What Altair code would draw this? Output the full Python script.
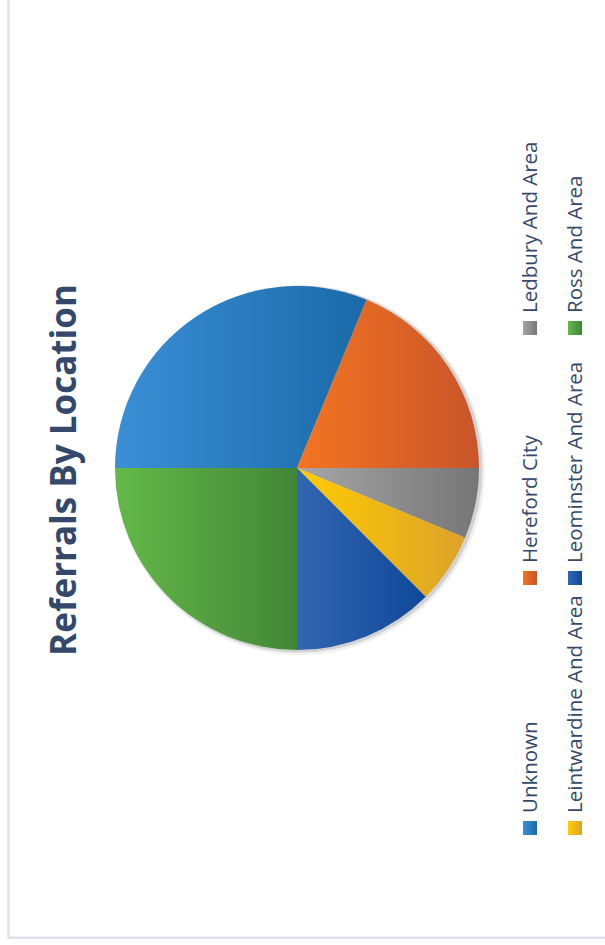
import math
import altair as alt
import pandas as pd

# ---- data ----
categories = ["Unknown", "Hereford City", "Ledbury And Area",
              "Leintwardine And Area", "Leominster And Area", "Ross And Area"]
values = [5, 3, 1, 1, 2, 4]
legend_col = [0, 0, 0, 1, 1, 1]
legend_row = [0, 1, 2, 0, 1, 2]
title_text = "Referrals By Location"

# ---- styles ----
light = ["#3a8fd6", "#f47421", "#a6a6a6", "#ffcc00", "#3366b3", "#64b948"]
dark = ["#1b6aa9", "#c8552a", "#767676", "#dca22b", "#0e4898", "#428638"]
text_color = "#34496a"
total = sum(values)

df = pd.DataFrame({"category": categories, "value": values,
                   "order": list(range(len(categories))),
                   "col": legend_col, "row": legend_row})

theta_scale = alt.Scale(domain=[0, total], range=[-math.pi / 2, 3 * math.pi / 2])
cx, cy, R = 297, 468, 182


def grad(i):
    return alt.Gradient(gradient="linear",
                        stops=[alt.GradientStop(color=light[i], offset=0),
                               alt.GradientStop(color=dark[i], offset=1)],
                        x1=0, x2=1, y1=0, y2=0)


base = (alt.Chart(df)
        .transform_window(cum="sum(value)", sort=[alt.SortField("order")],
                          frame=[None, 0])
        .transform_calculate(start="datum.cum - datum.value"))

# frame
frame = alt.Chart(pd.DataFrame({"k": [0]})).mark_rect(
    fill="white", stroke="#dde3ec", strokeWidth=2.5
).encode(x=alt.value(8.5), x2=alt.value(640), y=alt.value(-20), y2=alt.value(937.8))

# shadow
one = alt.Chart(pd.DataFrame({"k": [0]}))
shadows = [
    one.mark_arc(radius=R + 3, theta=0, theta2=2 * math.pi, fill="#000000", opacity=0.06)
       .encode(x=alt.value(cx + 3), y=alt.value(cy + 2)),
    one.mark_arc(radius=R + 1.5, theta=0, theta2=2 * math.pi, fill="#000000", opacity=0.12)
       .encode(x=alt.value(cx + 2), y=alt.value(cy + 1)),
]

xs = alt.Scale(domain=[0, 1], range=[530, 575])
ys = alt.Scale(domain=[0, 2], range=[828, 328])

arcs = []
squares = []
for i, c in enumerate(categories):
    arcs.append(
        base.transform_filter(alt.datum.category == c)
        .mark_arc(radius=R, fill=grad(i), stroke=None)
        .encode(theta=alt.Theta("start:Q", scale=theta_scale, stack=None),
                theta2="cum:Q",
                x=alt.value(cx), y=alt.value(cy))
    )
    squares.append(
        alt.Chart(df).transform_filter(alt.datum.category == c)
        .mark_square(size=196, fill=grad(i), opacity=1)
        .encode(x=alt.X("col:Q", scale=xs, axis=None),
                y=alt.Y("row:Q", scale=ys, axis=None))
    )

labels = alt.Chart(df).mark_text(
    angle=270, align="left", baseline="alphabetic", font="Open Sans",
    fontSize=20.5, color=text_color, xOffset=7, yOffset=-15
).encode(
    x=alt.X("col:Q", scale=xs, axis=None),
    y=alt.Y("row:Q", scale=ys, axis=None),
    text="category:N",
)

title = alt.Chart(pd.DataFrame({"t": [title_text]})).mark_text(
    angle=270, align="center", baseline="alphabetic", font="Open Sans",
    fontSize=35, fontWeight="bold", color=text_color
).encode(x=alt.value(76), y=alt.value(470), text="t:N")

chart = alt.layer(frame, *shadows, *arcs, *squares, labels, title).properties(
    width=605, height=945, padding=0, autosize="none", background="white"
).configure_view(stroke=None)

chart.save("out.html", embed_options={"renderer": "svg", "actions": False})
